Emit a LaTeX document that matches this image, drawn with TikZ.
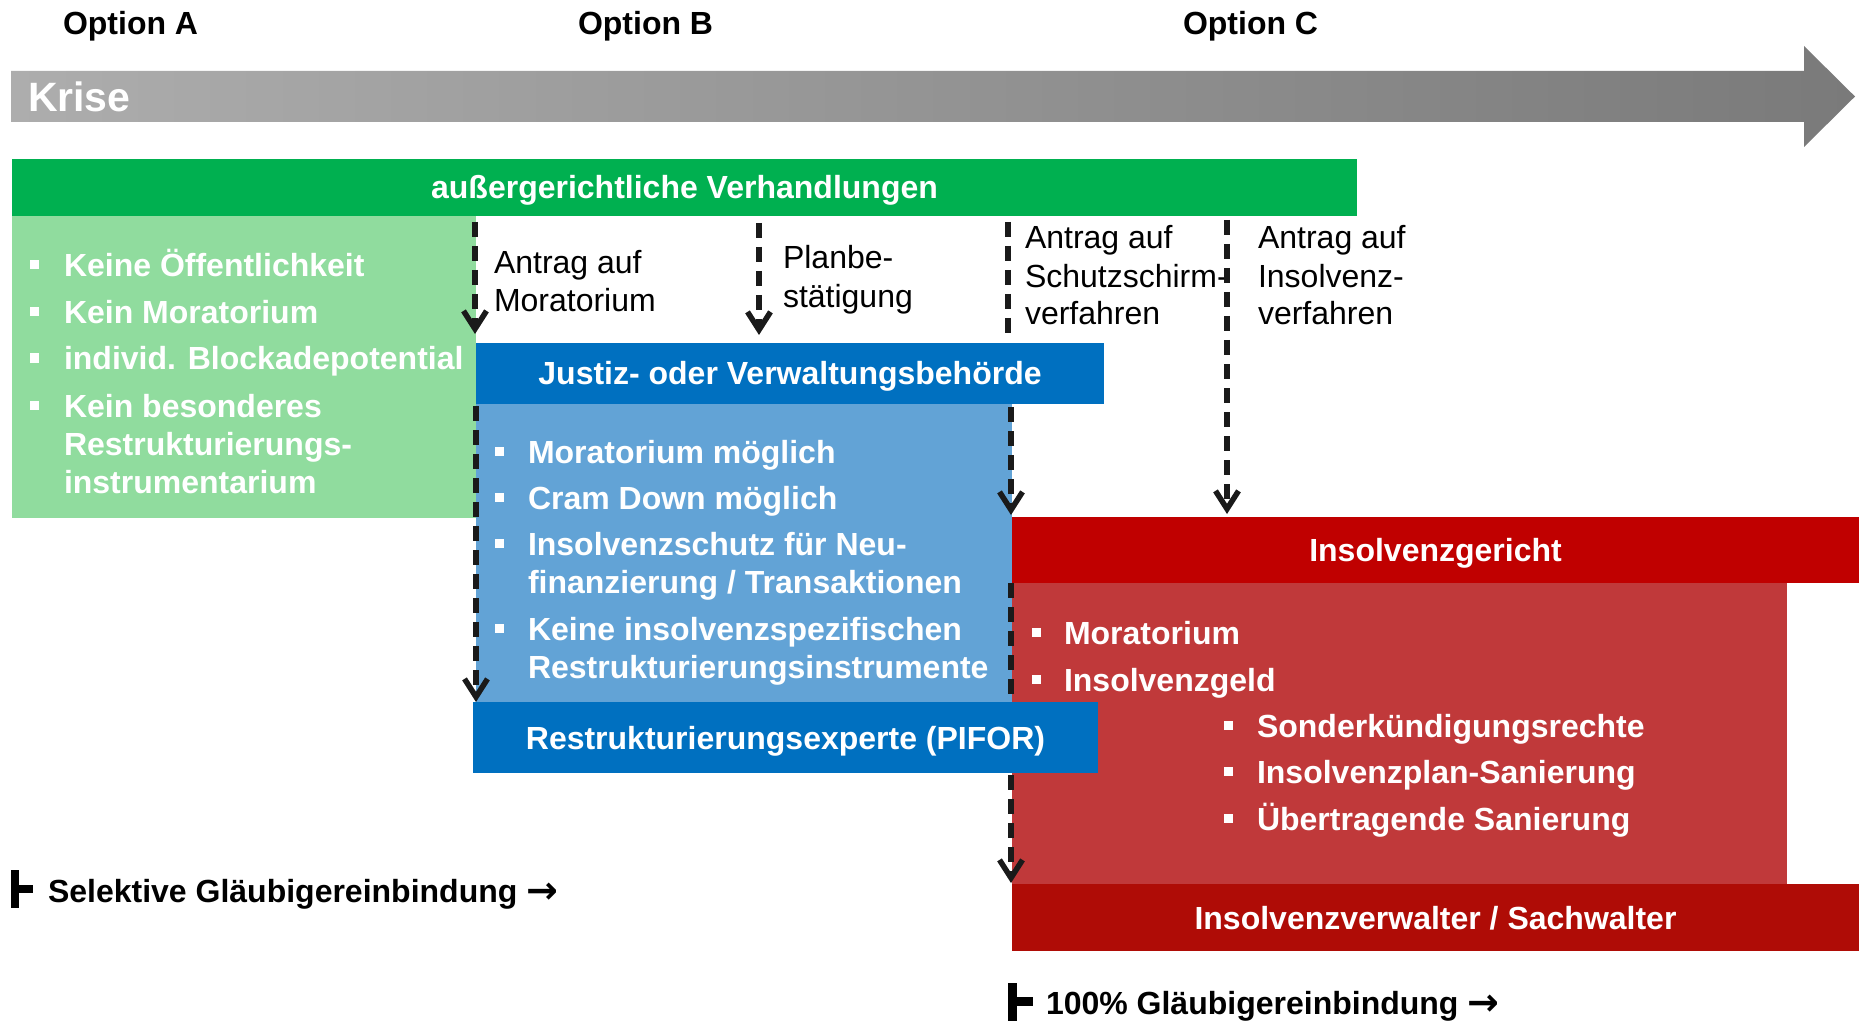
\documentclass[tikz,border=0pt]{standalone}
\usepackage{fontspec}
\setmainfont{Liberation Sans}
\newfontfamily\arrfont{DejaVu Sans}
\usetikzlibrary{arrows.meta,calc}
\definecolor{cgreen}{HTML}{00B050}
\definecolor{clgreen}{HTML}{90DC9E}
\definecolor{cblue}{HTML}{0070C0}
\definecolor{clblue}{HTML}{62A3D6}
\definecolor{cred}{HTML}{C00000}
\definecolor{credbody}{HTML}{C0393A}
\definecolor{cdred}{HTML}{AF0C06}
\definecolor{cdash}{HTML}{1A1A1A}
\definecolor{kril}{HTML}{ADADAD}
\definecolor{krir}{HTML}{7A7A7A}
\newcommand{\bsq}[2]{\fill[white] ({#1-4.5},{#2-16.5}) rectangle ({#1+4.5},{#2-7.5});}
\newcommand{\rarr}{\raisebox{-0.8pt}{\fontsize{19pt}{19pt}\selectfont\arrfont\bfseries →}}
\begin{document}
\begin{tikzpicture}[x=0.5pt,y=-0.5pt,
  every node/.style={inner sep=0pt,outer sep=0pt},
  bar/.style={fill=#1,text=white,font=\fontsize{16pt}{19pt}\selectfont\bfseries,
    text height=11.5pt,text depth=0pt,inner sep=0pt,anchor=center},
  panel/.style={fill=#1,inner sep=0pt,anchor=center},
  itm/.style={anchor=base west,text=white,font=\fontsize{16pt}{19pt}\selectfont\bfseries},
  lbl/.style={anchor=base west,text=black,font=\fontsize{16pt}{19pt}\selectfont},
  opt/.style={anchor=base west,text=black,font=\fontsize{16pt}{19pt}\selectfont\bfseries},
  dashln/.style={draw=cdash,line width=2.75pt,dash pattern=on 7.5pt off 4.5pt},
  dasharr/.style={dashln,-{Straight Barb[length=9pt,width=11.5pt]}}]
\useasboundingbox (0,0) rectangle (1861,1021);

% Krise arrow
\shade[left color=kril,right color=krir] (11,71) -- (1804,71) -- (1804,46) -- (1855,96.5)
  -- (1804,147) -- (1804,122) -- (11,122) -- cycle;
\node[anchor=base west,text=white,font=\fontsize{20.5pt}{24pt}\selectfont\bfseries] (krise) at (28,112) {Krise};

% options
\node[opt] (optA) at (63,35) {Option A};
\node[opt] (optB) at (578,35) {Option B};
\node[opt] (optC) at (1183,35) {Option C};

% panels
\node[panel=clgreen,minimum width=232pt,minimum height=151pt] (lgreen) at (244,367) {};
\node[bar=cgreen,minimum width=672.5pt,minimum height=28.5pt] (green) at (684.5,187.5) {außergerichtliche Verhandlungen};
\node[panel=clblue,minimum width=268pt,minimum height=149pt] (lblue) at (744,553) {};
\node[bar=cblue,minimum width=314pt,minimum height=30.5pt] (justiz) at (790,373.5) {Justiz- oder Verwaltungsbehörde};
\node[panel=credbody,minimum width=387.5pt,minimum height=150.5pt] (redbody) at (1399.5,733.5) {};
\node[bar=cred,minimum width=423.5pt,minimum height=33pt] (gericht) at (1435.5,550) {Insolvenzgericht};
\node[bar=cdred,minimum width=423.5pt,minimum height=33.5pt] (verwalter) at (1435.5,917.5) {Insolvenzverwalter / Sachwalter};

% green items
\bsq{34}{277}\node[itm] (g1) at (64,277) {Keine Öffentlichkeit};
\bsq{34}{324}\node[itm] (g2) at (64,324) {Kein Moratorium};
\bsq{34}{370}\node[itm] (g3) at (64,370) {individ. Blockadepotential};
\bsq{34}{417}\node[itm] (g4) at (64,417) {Kein besonderes};
\node[itm] (g4b) at (64,455) {Restrukturierungs-};
\node[itm] (g4c) at (64,493) {instrumentarium};

% blue items
\bsq{499}{463}\node[itm] (b1) at (528,463) {Moratorium möglich};
\bsq{499}{509}\node[itm] (b2) at (528,509) {Cram Down möglich};
\bsq{499}{555}\node[itm] (b3) at (528,555) {Insolvenzschutz für Neu-};
\node[itm] (b3b) at (528,593) {finanzierung / Transaktionen};
\bsq{499}{640}\node[itm] (b4) at (528,640) {Keine insolvenzspezifischen};
\node[itm] (b4b) at (528,678) {Restrukturierungsinstrumente};

% red items
\bsq{1036}{644}\node[itm] (r1) at (1064,644) {Moratorium};
\bsq{1036}{691}\node[itm] (r2) at (1064,691) {Insolvenzgeld};
\bsq{1228}{737}\node[itm] (r3) at (1257,737) {Sonderkündigungsrechte};
\bsq{1228}{783}\node[itm] (r4) at (1257,783) {Insolvenzplan-Sanierung};
\bsq{1228}{830}\node[itm] (r5) at (1257,830) {Übertragende Sanierung};

% labels
\node[lbl] (m1) at (494,274) {Antrag auf};
\node[lbl] (m2) at (494,312) {Moratorium};
\node[lbl] (p1) at (783,269) {Planbe-};
\node[lbl] (p2) at (783,307) {stätigung};
\node[lbl] (s1) at (1025,249) {Antrag auf};
\node[lbl] (s2) at (1025,288) {Schutzschirm-};
\node[lbl] (s3) at (1025,325) {verfahren};
\node[lbl] (i1) at (1258,249) {Antrag auf};
\node[lbl] (i2) at (1258,288) {Insolvenz-};
\node[lbl] (i3) at (1258,325) {verfahren};

% dashed connectors
\coordinate (c1) at (475,222);
\coordinate (c2) at (759,223);
\coordinate (c3) at (1008,222);
\coordinate (c4) at (1227,220);
\coordinate (c5) at (476,404);
\coordinate (c6) at (1011,404);
\coordinate (c7) at (1011,583);
\draw[dasharr,shorten >=4.5pt] (c1) -- (c1 |- justiz.north);
\draw[dasharr,shorten >=4pt] (c2) -- (c2 |- justiz.north);
\draw[dashln,shorten >=5pt] (c3) -- (c3 |- justiz.north);
\draw[dasharr,shorten >=1.5pt] (c4) -- (c4 |- gericht.north);
\draw[dasharr,shorten <=1.5pt,shorten >=1pt] (c6) -- (c6 |- gericht.north);
\draw[dasharr,shorten >=0.5pt] (c7) -- (c7 |- verwalter.north);

\node[bar=cblue,minimum width=312.5pt,minimum height=35.5pt] (pifor) at (785.5,737.5) {Restrukturierungsexperte (PIFOR)};
\draw[dasharr,shorten <=1pt] (c5) -- (c5 |- pifor.north);

% bottom notes
\fill[black] (11,870) rectangle (18.5,908);
\fill[black] (18.5,885) rectangle (33,893);
\node[opt] (sel) at (48,902) {Selektive Gläubigereinbindung \rarr};
\fill[black] (1008,983) rectangle (1016.5,1021);
\fill[black] (1016.5,997) rectangle (1033,1006);
\node[opt] (hund) at (1046,1014) {100\% Gläubigereinbindung \rarr};
\end{tikzpicture}
\end{document}
